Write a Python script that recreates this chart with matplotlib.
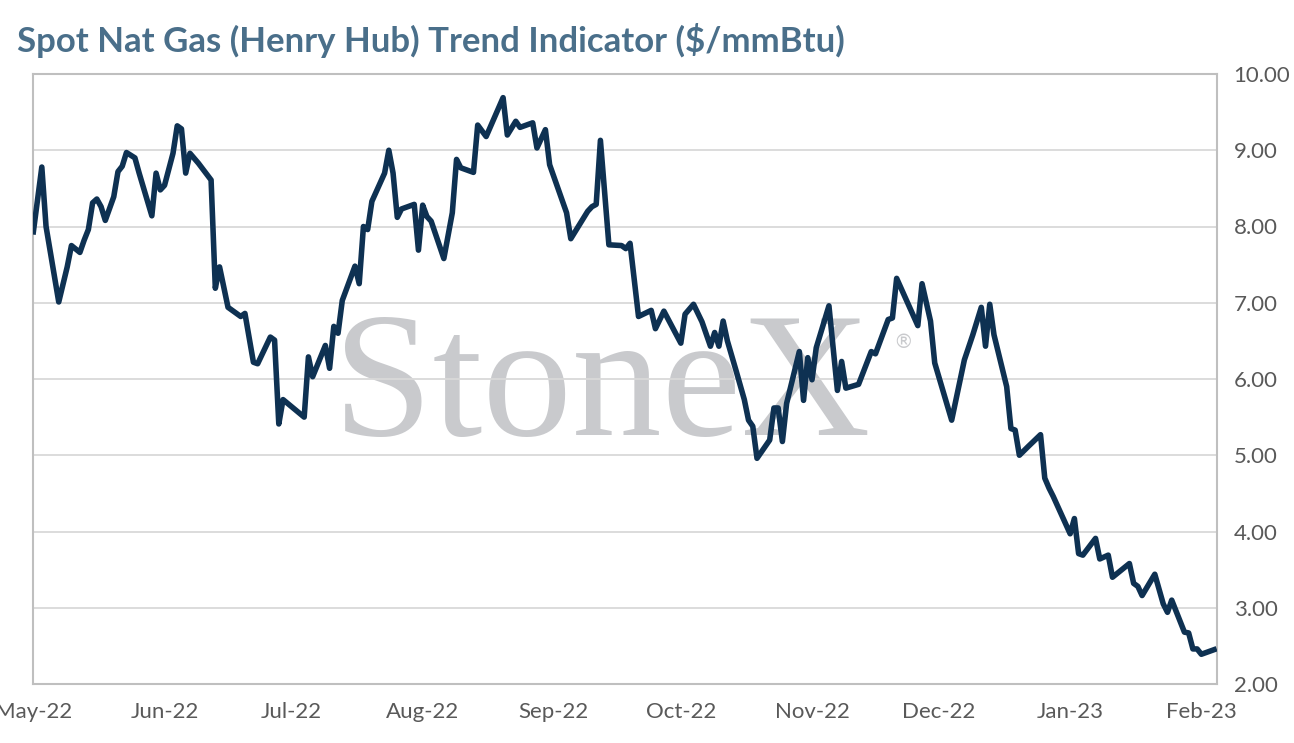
import matplotlib
matplotlib.use("Agg")
import matplotlib.pyplot as plt
import matplotlib.dates as mdates
import pandas as pd

title = "Spot Nat Gas (Henry Hub) Trend Indicator ($/mmBtu)"

dates = [
    "2022-05-01", "2022-05-03", "2022-05-04", "2022-05-07", "2022-05-09", "2022-05-10",
    "2022-05-12", "2022-05-13", "2022-05-14", "2022-05-15", "2022-05-16", "2022-05-17",
    "2022-05-18", "2022-05-20", "2022-05-21", "2022-05-22", "2022-05-23", "2022-05-25",
    "2022-05-26", "2022-05-29", "2022-05-30", "2022-05-31", "2022-06-01", "2022-06-03",
    "2022-06-04", "2022-06-05", "2022-06-06", "2022-06-07", "2022-06-09", "2022-06-12",
    "2022-06-13", "2022-06-14", "2022-06-16", "2022-06-19", "2022-06-20", "2022-06-22",
    "2022-06-23", "2022-06-26", "2022-06-27", "2022-06-28", "2022-06-29", "2022-07-04",
    "2022-07-05", "2022-07-06", "2022-07-09", "2022-07-10", "2022-07-11", "2022-07-12",
    "2022-07-13", "2022-07-16", "2022-07-17", "2022-07-18", "2022-07-19", "2022-07-20",
    "2022-07-23", "2022-07-24", "2022-07-25", "2022-07-26", "2022-07-27", "2022-07-30",
    "2022-07-31", "2022-08-01", "2022-08-02", "2022-08-03", "2022-08-06", "2022-08-08",
    "2022-08-09", "2022-08-10", "2022-08-13", "2022-08-14", "2022-08-16", "2022-08-20",
    "2022-08-21", "2022-08-23", "2022-08-24", "2022-08-27", "2022-08-28", "2022-08-30",
    "2022-08-31", "2022-09-04", "2022-09-05", "2022-09-09", "2022-09-10", "2022-09-11",
    "2022-09-12", "2022-09-14", "2022-09-17", "2022-09-18", "2022-09-19", "2022-09-21",
    "2022-09-24", "2022-09-25", "2022-09-27", "2022-10-01", "2022-10-02", "2022-10-04",
    "2022-10-06", "2022-10-08", "2022-10-09", "2022-10-10", "2022-10-11", "2022-10-12",
    "2022-10-14", "2022-10-16", "2022-10-17", "2022-10-18", "2022-10-19", "2022-10-22",
    "2022-10-23", "2022-10-24", "2022-10-25", "2022-10-26", "2022-10-29", "2022-10-30",
    "2022-10-31", "2022-11-01", "2022-11-02", "2022-11-05", "2022-11-07", "2022-11-08",
    "2022-11-09", "2022-11-12", "2022-11-15", "2022-11-16", "2022-11-19", "2022-11-20",
    "2022-11-21", "2022-11-26", "2022-11-27", "2022-11-29", "2022-11-30", "2022-12-04",
    "2022-12-07", "2022-12-09", "2022-12-11", "2022-12-12", "2022-12-13", "2022-12-14",
    "2022-12-17", "2022-12-18", "2022-12-19", "2022-12-20", "2022-12-22", "2022-12-25",
    "2022-12-26", "2022-12-27", "2022-12-28", "2023-01-01", "2023-01-02", "2023-01-03",
    "2023-01-04", "2023-01-07", "2023-01-08", "2023-01-10", "2023-01-11", "2023-01-15",
    "2023-01-16", "2023-01-17", "2023-01-18", "2023-01-21", "2023-01-23", "2023-01-24",
    "2023-01-25", "2023-01-28", "2023-01-29", "2023-01-30", "2023-01-31", "2023-02-01",
    "2023-02-04",
]

prices = [
    7.93, 8.78, 8.00, 7.01, 7.47, 7.75,
    7.66, 7.82, 7.96, 8.31, 8.36, 8.26,
    8.08, 8.39, 8.72, 8.79, 8.97, 8.90,
    8.70, 8.14, 8.70, 8.48, 8.54, 8.96,
    9.32, 9.28, 8.70, 8.96, 8.83, 8.61,
    7.19, 7.47, 6.94, 6.82, 6.86, 6.22,
    6.20, 6.55, 6.51, 5.41, 5.73, 5.50,
    6.29, 6.03, 6.44, 6.14, 6.69, 6.60,
    7.03, 7.48, 7.25, 8.00, 7.96, 8.33,
    8.70, 9.00, 8.70, 8.12, 8.23, 8.29,
    7.69, 8.28, 8.13, 8.07, 7.58, 8.18,
    8.88, 8.77, 8.71, 9.33, 9.18, 9.69,
    9.20, 9.38, 9.30, 9.36, 9.03, 9.27,
    8.81, 8.18, 7.84, 8.20, 8.26, 8.29,
    9.13, 7.76, 7.75, 7.71, 7.78, 6.82,
    6.90, 6.66, 6.89, 6.47, 6.85, 6.98,
    6.75, 6.43, 6.61, 6.43, 6.76, 6.50,
    6.12, 5.73, 5.46, 5.38, 4.96, 5.20,
    5.62, 5.62, 5.18, 5.68, 6.36, 5.72,
    6.28, 5.99, 6.41, 6.96, 5.85, 6.23,
    5.88, 5.93, 6.36, 6.33, 6.78, 6.80,
    7.32, 6.70, 7.25, 6.76, 6.21, 5.46,
    6.25, 6.58, 6.94, 6.43, 6.98, 6.58,
    5.90, 5.35, 5.33, 5.00, 5.11, 5.27,
    4.70, 4.57, 4.46, 3.97, 4.17, 3.71,
    3.69, 3.91, 3.64, 3.69, 3.40, 3.58,
    3.32, 3.28, 3.16, 3.44, 3.05, 2.94,
    3.10, 2.68, 2.67, 2.46, 2.46, 2.39,
    2.45,
]

y_ticks = [2, 3, 4, 5, 6, 7, 8, 9, 10]

plt.rcParams['font.family'] = ['Lato', 'DejaVu Sans']

x = pd.to_datetime(dates)

fig = plt.figure(figsize=(12.94, 7.43), dpi=100)
ax = fig.add_axes([33 / 1294, 1 - 684 / 743, (1217 - 33) / 1294, (684 - 74) / 743])

ax.plot(x, prices, color='#0E3152', lw=4.0, solid_joinstyle='round', zorder=3)

start = pd.Timestamp('2022-05-01')
ax.set_xlim(start - pd.Timedelta(hours=2), start + pd.Timedelta(days=279.7))
ax.set_ylim(2, 10)

ax.xaxis.set_major_locator(mdates.MonthLocator())
ax.xaxis.set_major_formatter(mdates.DateFormatter('%b-%y'))
ax.set_yticks(y_ticks)
ax.yaxis.set_major_formatter(matplotlib.ticker.FuncFormatter(lambda v, p: f"{v:.2f}"))
ax.yaxis.tick_right()
ax.tick_params(axis='both', length=0, labelsize=16, labelcolor='#595959')
ax.tick_params(axis='y', pad=12)
ax.tick_params(axis='x', pad=13)

ax.set_axisbelow(True)
ax.grid(axis='y', color='#D9D9D9', lw=1.3)
for s in ax.spines.values():
    s.set_color('#BFBFBF')
    s.set_linewidth(1.5)

ax.text((333 - 33) / 1184, (684 - 435) / 610, "StoneX", transform=ax.transAxes,
        family=['Liberation Serif', 'DejaVu Serif'], fontsize=129, color='#C9CACD',
        ha='left', va='baseline', zorder=0.2)
ax.text((903 - 33) / 1184, (684 - 342) / 610, "\u00ae", transform=ax.transAxes,
        family=['DejaVu Sans'], fontsize=14, color='#C9CACD',
        ha='center', va='center', zorder=0.2)

fig.text(17 / 1294, 1 - 40 / 743, title, fontsize=25, fontweight='bold',
         color='#4A6F8A', ha='left', va='center')

fig.savefig('out.png', dpi=100)
